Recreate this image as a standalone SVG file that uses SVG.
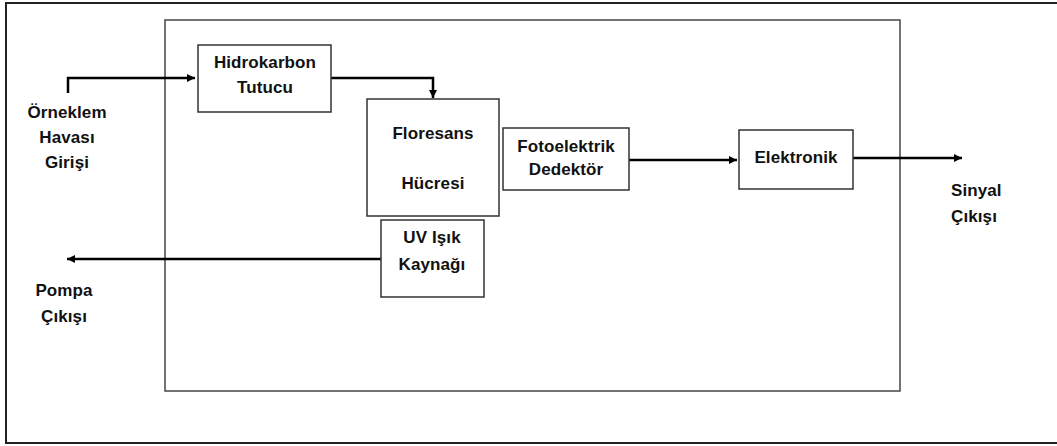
<svg xmlns="http://www.w3.org/2000/svg" width="1057" height="446" viewBox="0 0 1057 446">
<style>
.box{fill:#fff;stroke:#333;stroke-width:1.5}
.frame{fill:none;stroke:#444;stroke-width:1.5}
.wire{fill:none;stroke:#000;stroke-width:2.5}
text{font-family:"Liberation Sans",Arial,sans-serif;font-weight:bold;font-size:17px;fill:#111;text-anchor:middle;letter-spacing:0.1px}
</style>
<defs>
<marker id="ah" viewBox="0 0 10 10" refX="10" refY="5" markerWidth="3.6" markerHeight="3.2" orient="auto" markerUnits="strokeWidth">
<path d="M0,0 L10,5 L0,10 z" fill="#000"/>
</marker>
</defs>
<rect x="0" y="0" width="1057" height="446" fill="#fff"/>
<rect id="outer" x="6" y="3" width="1060" height="440" fill="none" stroke="#222" stroke-width="2"/>
<rect id="frame" class="frame" x="165" y="20" width="735" height="371"/>
<g id="connectors">
<path class="wire" d="M68,93 V78 H195" marker-end="url(#ah)"/>
<path class="wire" d="M331,78 H433 V98" marker-end="url(#ah)"/>
<path class="wire" d="M629,160 H737" marker-end="url(#ah)"/>
<path class="wire" d="M853,158 H962" marker-end="url(#ah)"/>
<path class="wire" d="M381,259 H67" marker-end="url(#ah)"/>
</g>
<g id="hidrokarbon">
<rect class="box" x="198" y="45" width="133" height="67"/>
<text x="265" y="68">Hidrokarbon</text>
<text x="265" y="93">Tutucu</text>
</g>
<g id="floresans">
<rect class="box" x="367" y="99" width="132" height="117"/>
<text x="433" y="139">Floresans</text>
<text x="433" y="189">Hücresi</text>
</g>
<g id="fotoelektrik">
<rect class="box" x="503" y="128" width="126" height="62"/>
<text x="566" y="152">Fotoelektrik</text>
<text x="566" y="175">Dedektör</text>
</g>
<g id="elektronik">
<rect class="box" x="739" y="130" width="114" height="59"/>
<text x="796" y="163">Elektronik</text>
</g>
<g id="uv">
<rect class="box" x="381" y="220" width="103" height="77"/>
<text x="432" y="243">UV Işık</text>
<text x="432" y="270">Kaynağı</text>
</g>
<g id="giris">
<text x="67" y="118">Örneklem</text>
<text x="67" y="143">Havası</text>
<text x="67" y="168">Girişi</text>
</g>
<g id="pompa">
<text x="64" y="296">Pompa</text>
<text x="64" y="322">Çıkışı</text>
</g>
<g id="sinyal">
<text x="951" y="196" style="text-anchor:start">Sinyal</text>
<text x="951" y="222" style="text-anchor:start">Çıkışı</text>
</g>
</svg>
